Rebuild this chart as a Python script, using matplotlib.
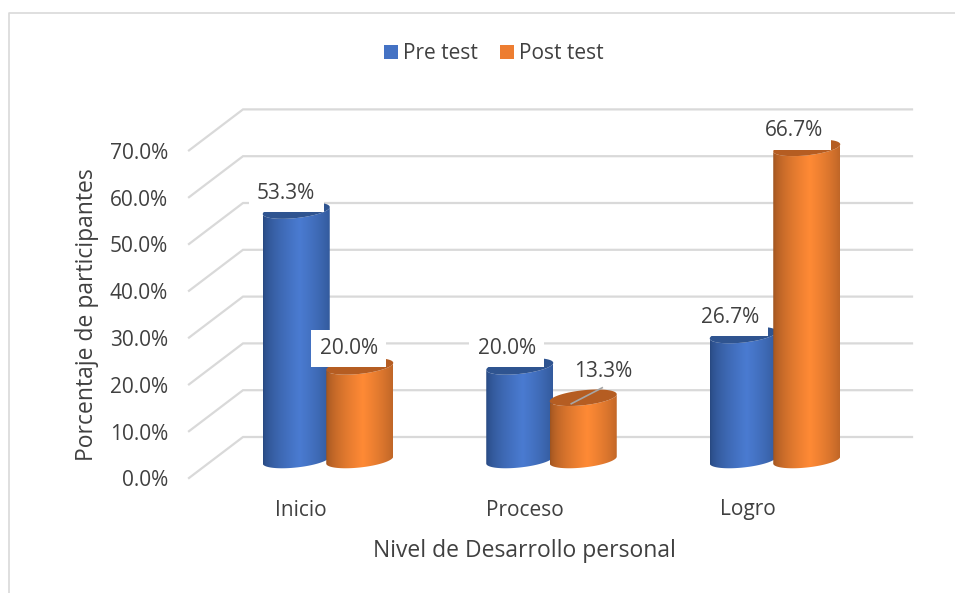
import matplotlib.pyplot as plt
import numpy as np
from matplotlib.colors import to_rgb
from matplotlib.lines import Line2D
from matplotlib.patches import Patch, PathPatch, Polygon
from matplotlib.path import Path

plt.rcParams['font.family'] = ['Open Sans', 'DejaVu Sans']

categories = ['Inicio', 'Proceso', 'Logro']
pre_test = [53.3, 20.0, 26.7]
post_test = [20.0, 13.3, 66.7]
y_ticks = [0, 10, 20, 30, 40, 50, 60, 70]

W, H = 955, 593
X0, GROUP = 328.0, 223.5   # pixel centre of first group, group spacing
Y0, UNIT = 460.0, 4.68     # pixel row of 0 % at the bars, pixels per 1 %
BLUE = ('#27487f', '#4a7bd1', '#2f5490')   # edge, centre, lid
ORANGE = ('#9c5220', '#ff8a35', '#b55d22')
TEXT = '#404040'
GRID = '#d9d9d9'


def dx(px):
    return px / GROUP


def dy(px):
    return px / UNIT


def cylinder(ax, x, value, colors, zorder):
    half = dx(33.5)
    b = dy(7.5)     # ellipse half height
    tilt = dy(3.5)  # right side sits higher than the left one
    t = np.linspace(np.pi, 2 * np.pi, 60)
    ex = x + half * np.cos(t)
    bottom = b * np.sin(t) + tilt * np.cos(t)
    # body outline: lower arc of the base, then lower arc of the lid backwards
    bx = np.r_[ex, ex[::-1]]
    by = np.r_[bottom, value + bottom[::-1]]
    verts = np.c_[bx, by]
    clip = PathPatch(Path(np.vstack([verts, verts[0]])), fc='none', ec='none', transform=ax.transData)
    ax.add_patch(clip)
    edge = np.array(to_rgb(colors[0]))
    mid = np.array(to_rgb(colors[1]))
    u = np.linspace(0, 1, 120)
    k = np.clip(1 - np.abs(u - 0.55) / 0.55, 0, 1) ** 0.6
    img = edge[None, :] + (mid - edge)[None, :] * k[:, None]
    im = ax.imshow(img[None, :, :], extent=(x - half, x + half, -b - tilt, value + b + tilt),
                   aspect='auto', zorder=zorder, interpolation='bilinear')
    im.set_clip_path(clip)
    # lid
    s = np.linspace(0, 2 * np.pi, 90)
    lid = np.c_[x + half * np.cos(s), value + b * np.sin(s) + tilt * np.cos(s)]
    ax.add_patch(Polygon(lid, closed=True, fc=colors[2], ec='none', zorder=zorder + 0.1))


fig = plt.figure(figsize=(W / 100, H / 100), dpi=100)
ax = fig.add_axes([0, 0, 1, 1])

# frame of the chart area, open to the right and below
fig.add_artist(Line2D([9 / W, 9 / W, 1], [0, 1 - 13 / H, 1 - 13 / H], color=GRID, lw=1.2))

# walls: back grid line plus the slanted floor part
back_left, back_right = dx(243 - X0), dx(912 - X0)
front_left = dx(189 - X0)
for v in y_ticks:
    yb = v + dy(Y0 - 437)
    yf = yb - dy(41)
    ax.plot([front_left, back_left, back_right], [yf, yb, yb], color=GRID, lw=1.6, zorder=1,
            solid_joinstyle='miter')
    ax.text(dx(168 - X0), yf - dy(3), '%.1f%%' % v, ha='right', va='center', fontsize=15, color=TEXT)

shift = dx(31.75)
for i in range(len(categories)):
    cylinder(ax, i - shift, pre_test[i], BLUE, 3)
    cylinder(ax, i + shift, post_test[i], ORANGE, 4)
    ax.text(i - dx(27), -dy(50), categories[i], ha='center', va='center', fontsize=15, color=TEXT)

# data labels, pixel offsets from the top of each bar
pre_off = [(-10, 17), (-13, 18), (-13, 18)]
post_off = [(-11, 18), (20, 26), (-13, 17)]
box = dict(fc='white', ec='none', boxstyle='square,pad=0.40')
for i in range(len(categories)):
    ax.text(i - shift + dx(pre_off[i][0]), pre_test[i] + dy(pre_off[i][1]), '%.1f%%' % pre_test[i],
            ha='center', va='center', fontsize=15, color=TEXT, bbox=box, zorder=6)
    # the small Proceso bar has its label clear of the lid, no white box there
    ax.text(i + shift + dx(post_off[i][0]), post_test[i] + dy(post_off[i][1]), '%.1f%%' % post_test[i],
            ha='center', va='center', fontsize=15, color=TEXT, bbox=None if i == 1 else box, zorder=5)

# leader line of the small Proceso bar
ax.plot([1 + shift - dx(12), 1 + shift + dx(19)], [post_test[1] - dy(6), post_test[1] + dy(10)],
        color='#a6a6a6', lw=1.2, zorder=7)

ax.text(dx(87 - X0), dy(Y0 - 315), 'Porcentaje de participantes', rotation=90, ha='center', va='center',
        fontsize=16.5, color=TEXT)
ax.text(dx(524 - X0), -dy(551 - Y0), 'Nivel de Desarrollo personal', ha='center', va='center',
        fontsize=16.5, color=TEXT)

handles = [Patch(fc='#4472c4', ec='none', label='Pre test'), Patch(fc='#ed7d31', ec='none', label='Post test')]
ax.legend(handles=handles, ncol=2, loc='center', bbox_to_anchor=(494 / W, 1 - 53.5 / H), frameon=False,
          fontsize=15, labelcolor=TEXT, handlelength=0.67, handleheight=0.67, handletextpad=0.24,
          columnspacing=1.05)

ax.set_xlim(dx(-X0), dx(W - X0))
ax.set_ylim(-dy(H - Y0), dy(Y0))
ax.axis('off')

fig.savefig('out.png', dpi=100)
